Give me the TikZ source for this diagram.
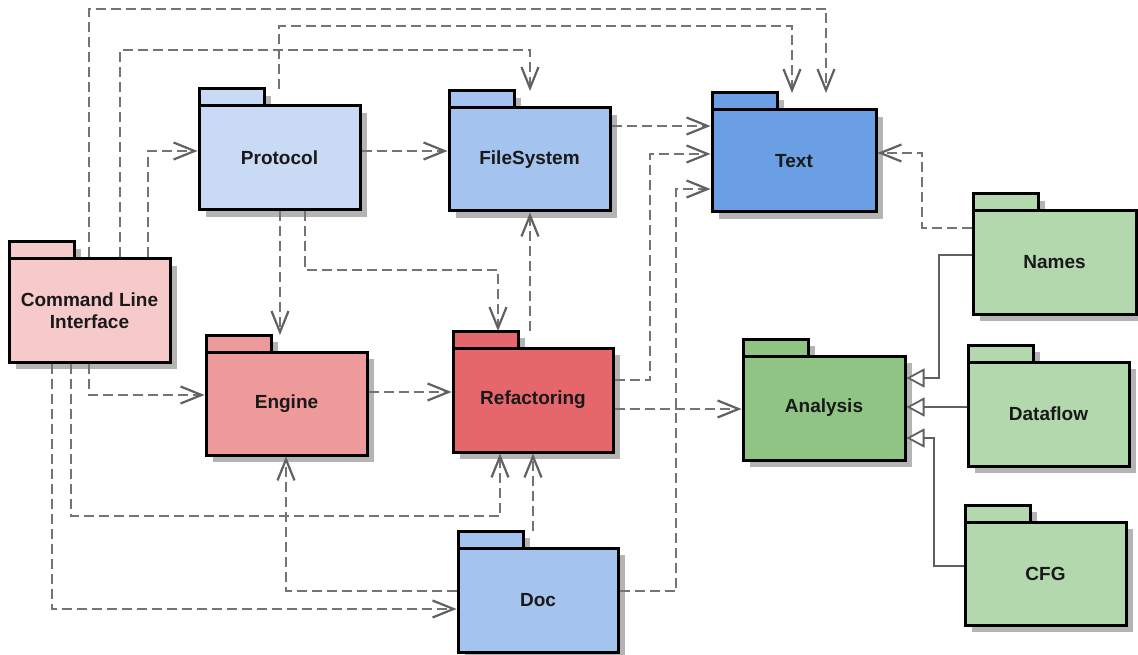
\documentclass[tikz,border=0pt]{standalone}
\usepackage{fontspec}
\setmainfont{Liberation Sans}
\usetikzlibrary{arrows.meta}
\definecolor{cliC}{HTML}{F6CACB}
\definecolor{engC}{HTML}{EE9A9A}
\definecolor{refC}{HTML}{E6676B}
\definecolor{protC}{HTML}{C9DAF4}
\definecolor{fsC}{HTML}{A4C4EF}
\definecolor{textC}{HTML}{6B9FE3}
\definecolor{anaC}{HTML}{8FC485}
\definecolor{grnC}{HTML}{B3D8AD}
\definecolor{shadC}{HTML}{B4B4B4}
\definecolor{depC}{HTML}{747474}
\definecolor{genC}{HTML}{606060}
\tikzset{
  pkgshadow/.style={fill=shadC},
  pkgline/.style={draw=black,line width=3pt},
  pkgbody/.style={draw=black,line width=3pt,inner sep=0pt,
    font=\bfseries\fontsize{19}{22}\selectfont,text=black!90,align=center},
  dep/.style={draw=depC,line width=2.8pt,dash pattern=on 10pt off 5pt,
    -{Straight Barb[length=21pt,width=17pt,line width=2.2pt,color=black!62]}},
  gen/.style={draw=genC,line width=2pt,
    -{Triangle[length=18pt,width=19pt,fill=white,line width=1.8pt,color=black!62]}},
}
\newcommand\pkg[7]{%
  \fill[pkgshadow] (#2+7,#3+7) rectangle (#2+72,#3+24);
  \fill[pkgshadow] (#2+7,#3+24) rectangle (#4+7,#5+7);
  \draw[pkgline,fill=#6] (#2,#3) rectangle (#2+65,#3+17);
  \node[pkgbody,fill=#6,minimum width={(#4-#2)*1pt},minimum height={(#5-#3-17)*1pt}]
    (#1) at ({(#2+#4)/2},{(#3+17+#5)/2}) {#7};
  \coordinate (#1top) at (#2,#3);
}
\begin{document}
\begin{tikzpicture}[x=1pt,y=-1pt]
\useasboundingbox (0,0) rectangle (1138,655);
\pkg{cli}{9}{242}{170}{362}{cliC}{Command Line\\Interface}
\pkg{prot}{199}{89}{360}{210}{protC}{Protocol}
\pkg{fs}{449}{91}{610}{211}{fsC}{FileSystem}
\pkg{text}{712}{93}{876}{212}{textC}{Text}
\pkg{engine}{206}{335}{367}{455}{engC}{Engine}
\pkg{refac}{453}{331}{613}{452}{refC}{Refactoring}
\pkg{doc}{458}{531}{618}{652}{fsC}{Doc}
\pkg{analysis}{743}{339}{905}{460}{anaC}{Analysis}
\pkg{names}{973}{194}{1136}{314}{grnC}{Names}
\pkg{dataflow}{968}{345}{1129}{466}{grnC}{Dataflow}
\pkg{cfg}{965}{505}{1126}{625}{grnC}{CFG}
% dependencies
\draw[dep] (cli.north -| 89,0) |- (826,9) -- (texttop -| 826,0);
\draw[dep] (cli.north -| 120,0) |- (530,50) -- (fstop -| 530,0);
\draw[dep] (prottop -| 279,0) |- (792,26) -- (texttop -| 792,0);
\draw[dep] (cli.north -| 148,0) |- (prot.west |- 0,151);
\draw[dep] (prot.east |- 0,151) -- (fs.west |- 0,151);
\draw[dep] (fs.east |- 0,126) -- (text.west |- 0,126);
\draw[dep] (refac.east |- 0,380) -| (650,154) -- (text.west |- 0,154);
\draw[dep] (doc.east |- 0,591) -| (676,189) -- (text.west |- 0,189);
\draw[dep] (refactop -| 530,0) -- (fs.south -| 530,0);
\draw[dep] (prot.south -| 280,0) -- (enginetop -| 280,0);
\draw[dep] (prot.south -| 305,0) |- (498,270) -- (refactop -| 498,0);
\draw[dep] (cli.south -| 89,0) |- (engine.west |- 0,395);
\draw[dep] (cli.south -| 71,0) |- (500,516) -- (refac.south -| 500,0);
\draw[dep] (cli.south -| 52,0) |- (doc.west |- 0,609);
\draw[dep] (doc.west |- 0,591) -| (engine.south -| 286,0);
\draw[dep] (doctop -| 533,0) -- (refac.south -| 533,0);
\draw[dep] (engine.east |- 0,392) -- (refac.west |- 0,392);
\draw[dep] (refac.east |- 0,409) -- (analysis.west |- 0,409);
\draw[dep] (names.west |- 0,228) -| (922,153) -- (text.east |- 0,153);
% generalizations
\draw[gen] (names.west |- 0,255) -| (939,378) -- (analysis.east |- 0,378);
\draw[gen] (dataflow.west |- 0,407) -- (analysis.east |- 0,407);
\draw[gen] (cfg.west |- 0,566) -| (934,438) -- (analysis.east |- 0,438);
\end{tikzpicture}
\end{document}
